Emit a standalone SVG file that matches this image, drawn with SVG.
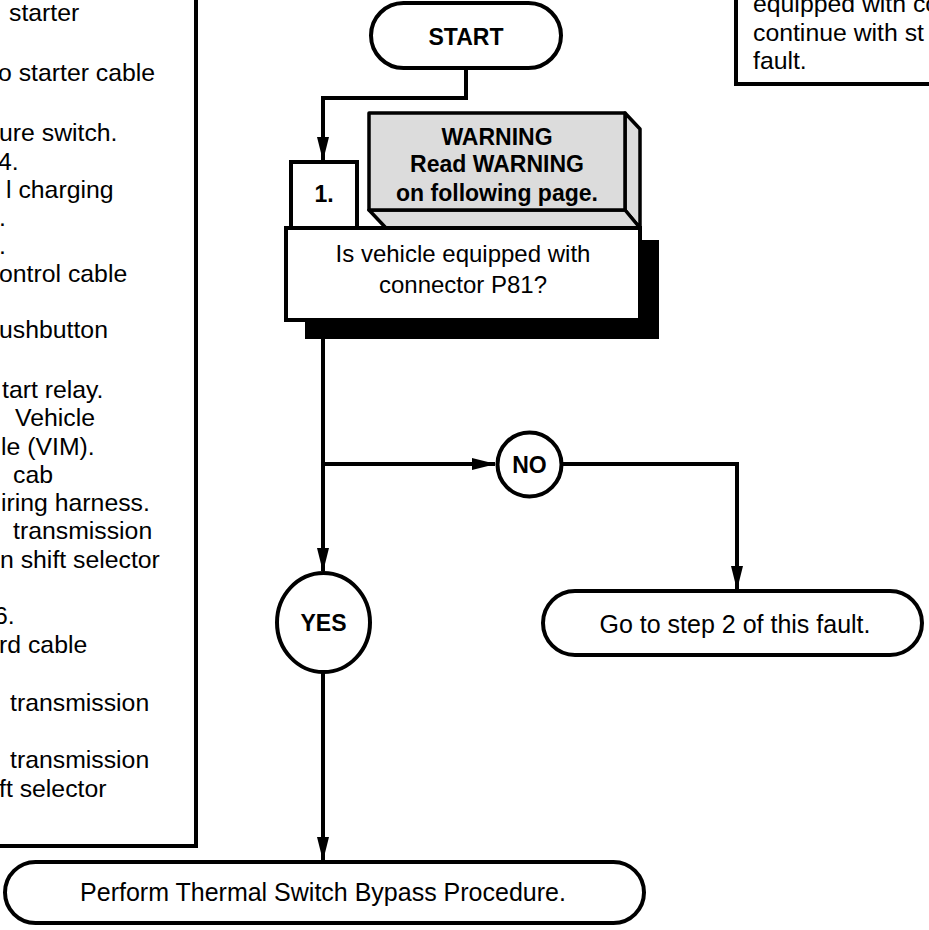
<svg xmlns="http://www.w3.org/2000/svg" width="929" height="930" viewBox="0 0 929 930">
<defs>
<marker id="arr" markerWidth="24" markerHeight="12" refX="23" refY="6" orient="auto" markerUnits="userSpaceOnUse">
<path d="M0,0 L24,6 L0,12 Z" fill="#000"/>
</marker>
<style>
.t{font-family:"Liberation Sans",Arial,sans-serif;font-size:25px;fill:#000}
.q{font-family:"Liberation Sans",Arial,sans-serif;font-size:24px;fill:#000}
.p{font-family:"Liberation Sans",Arial,sans-serif;font-size:24.8px;fill:#000}
.b{font-family:"Liberation Sans",Arial,sans-serif;font-size:23px;font-weight:bold;fill:#000}
.c{text-anchor:middle}
.box{fill:#fff;stroke:#000;stroke-width:4}
.gray{fill:#dcdcdc;stroke:#000;stroke-width:3.5;stroke-linejoin:round}
.ln{fill:none;stroke:#000;stroke-width:4}
</style>
</defs>
<rect width="929" height="930" fill="#fff"/>

<g id="left-panel">
<rect x="-20" y="-20" width="216" height="866" class="box"/>
<text class="p" x="9" y="21">starter</text>
<text class="p" x="-2" y="81">o starter cable</text>
<text class="p" x="-1" y="141">ure switch.</text>
<text class="p" x="-2" y="170">4.</text>
<text class="p" x="6" y="198">l charging</text>
<text class="p" x="-1" y="226">.</text>
<text class="p" x="-1" y="254">.</text>
<text class="p" x="-1" y="282">ontrol cable</text>
<text class="p" x="-1" y="338">ushbutton</text>
<text class="p" x="2" y="398">tart relay.</text>
<text class="p" x="15" y="426">Vehicle</text>
<text class="p" x="1" y="455">le (VIM).</text>
<text class="p" x="13" y="483">cab</text>
<text class="p" x="1" y="511">iring harness.</text>
<text class="p" x="13" y="539">transmission</text>
<text class="p" x="0" y="568">n shift selector</text>
<text class="p" x="-6" y="624">6.</text>
<text class="p" x="-1" y="653">rd cable</text>
<text class="p" x="10" y="711">transmission</text>
<text class="p" x="10" y="768">transmission</text>
<text class="p" x="-1" y="797">ft selector</text>
</g>

<g id="note-panel">
<rect x="736" y="-20" width="220" height="104" class="box"/>
<text class="p" x="753" y="12">equipped with co</text>
<text class="p" x="753" y="41">continue with st</text>
<text class="p" x="753" y="69">fault.</text>
</g>

<g id="connectors">
<path class="ln" d="M466,68 V98 H323 V160" marker-end="url(#arr)"/>
<path class="ln" d="M323,320 V571" marker-end="url(#arr)"/>
<path class="ln" d="M323,464 H495" marker-end="url(#arr)"/>
<path class="ln" d="M562,464 H737 V589" marker-end="url(#arr)"/>
<path class="ln" d="M323,672 V860" marker-end="url(#arr)"/>
</g>

<g id="start">
<rect x="371" y="3" width="190" height="65" rx="32.5" class="box"/>
<text class="b c" x="466" y="45">START</text>
</g>

<g id="warning">
<polygon class="gray" points="625,113 640,129 640,228 625,210"/>
<polygon class="gray" points="369,210 625,210 640,228 386,228"/>
<rect x="369" y="113" width="256" height="97" class="gray"/>
<text class="b c" x="497" y="145">WARNING</text>
<text class="b c" x="497" y="172">Read WARNING</text>
<text class="b c" x="497" y="201">on following page.</text>
</g>

<g id="step1">
<rect x="305" y="240" width="354" height="99" fill="#000"/>
<rect x="291" y="162" width="66" height="66" class="box"/>
<text class="b c" x="324" y="202">1.</text>
<rect x="286" y="228" width="354" height="92" class="box"/>
<text class="q c" x="463" y="262">Is vehicle equipped with</text>
<text class="q c" x="463" y="293">connector P81?</text>
</g>

<g id="no">
<ellipse cx="529.5" cy="464.5" rx="32" ry="32" class="box"/>
<text class="b c" x="529.5" y="472.5">NO</text>
</g>

<g id="yes">
<ellipse cx="323.5" cy="622.5" rx="46.5" ry="49.5" class="box"/>
<text class="b c" x="323.5" y="630.5">YES</text>
</g>

<g id="step2">
<rect x="543" y="591" width="379" height="64" rx="32" class="box"/>
<text class="t c" x="735" y="633">Go to step 2 of this fault.</text>
</g>

<g id="bypass">
<rect x="5" y="862" width="639" height="61" rx="30.5" class="box"/>
<text class="t c" x="323" y="901">Perform Thermal Switch Bypass Procedure.</text>
</g>
</svg>
